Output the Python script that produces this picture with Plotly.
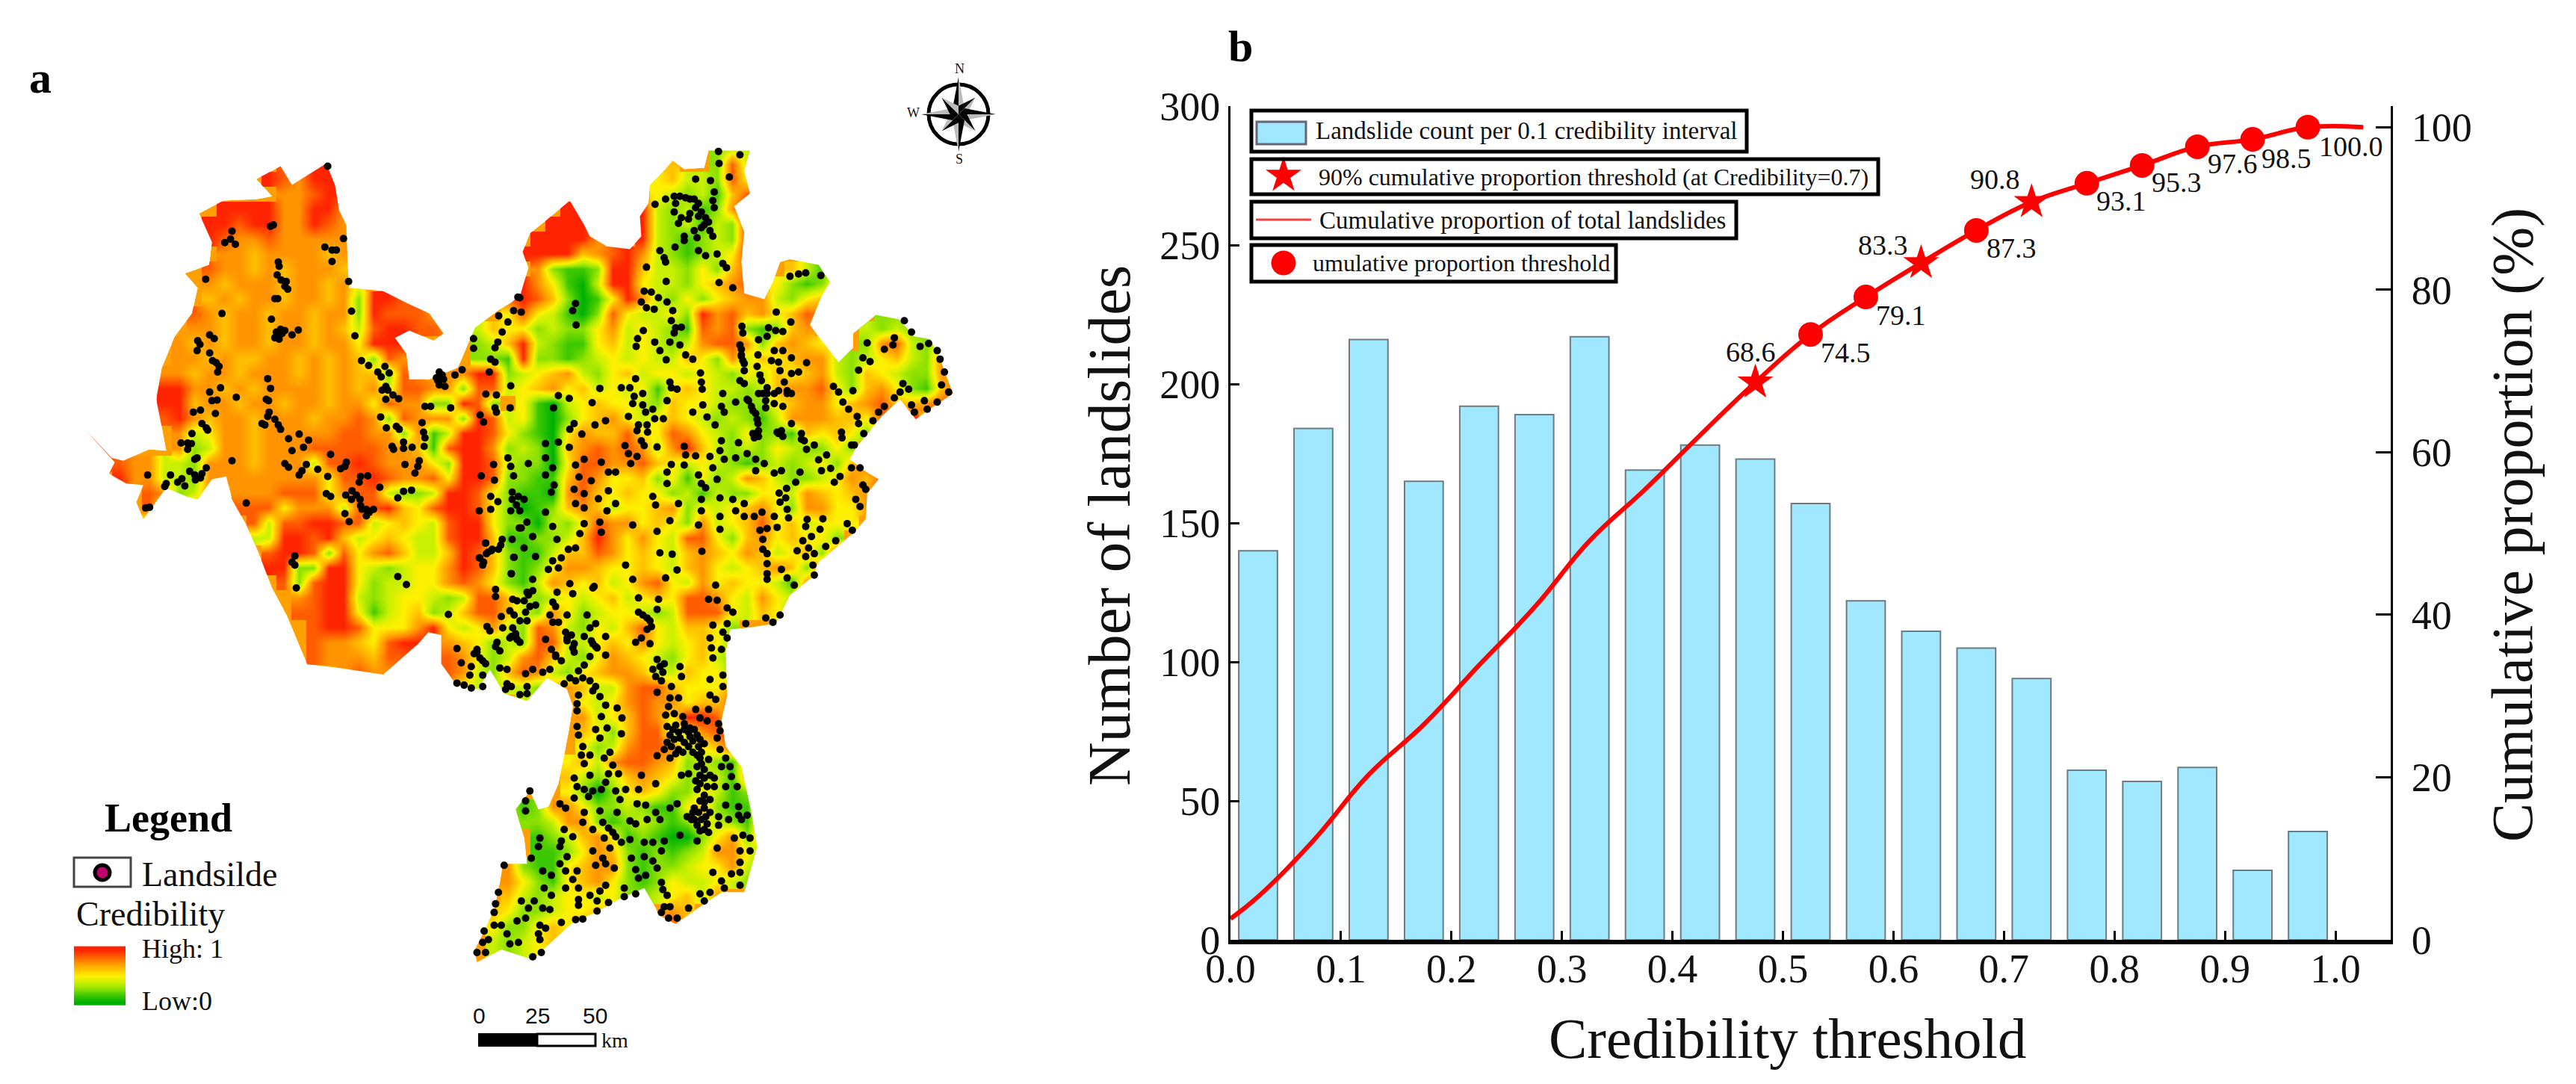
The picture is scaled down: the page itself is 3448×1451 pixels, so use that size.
import math
import plotly.graph_objects as go

# ---- panel b data
thresholds = [0.025, 0.075, 0.125, 0.175, 0.225, 0.275, 0.325, 0.375, 0.425, 0.475,
              0.525, 0.575, 0.625, 0.675, 0.725, 0.775, 0.825, 0.875, 0.925, 0.975]
landslide_counts = [140, 184, 216, 165, 192, 189, 217, 169, 178, 173,
                    157, 122, 111, 105, 94, 61, 57, 62, 25, 39]
curve_x = [0.0, 0.025, 0.075, 0.125, 0.175, 0.225, 0.275, 0.325, 0.375, 0.425, 0.475,
           0.525, 0.575, 0.625, 0.675, 0.725, 0.775, 0.825, 0.875, 0.925, 0.975, 1.025]
curve_y = [2.6, 5.3, 12.2, 20.3, 26.5, 33.8, 40.9, 49.1, 55.4, 62.1, 68.6,
           74.5, 79.1, 83.3, 87.3, 90.8, 93.1, 95.3, 97.6, 98.5, 100.0, 100.0]
star_x = [0.475, 0.625, 0.725]
star_y = [68.6, 83.3, 90.8]
dot_x = [0.525, 0.575, 0.675, 0.775, 0.825, 0.875, 0.925, 0.975]
dot_y = [74.5, 79.1, 87.3, 93.1, 95.3, 97.6, 98.5, 100.0]
x_ticks = [0.0, 0.1, 0.2, 0.3, 0.4, 0.5, 0.6, 0.7, 0.8, 0.9, 1.0]
left_ticks = [0, 50, 100, 150, 200, 250, 300]
right_ticks = [0, 20, 40, 60, 80, 100]
point_labels = [
    (0.475, 68.6, "68.6", -6, 41), (0.525, 74.5, "74.5", 47, -24), (0.575, 79.1, "79.1", 47, -24),
    (0.625, 83.3, "83.3", -51, 24), (0.675, 87.3, "87.3", 47, -24), (0.725, 90.8, "90.8", -49, 30),
    (0.775, 93.1, "93.1", 46, -24), (0.825, 95.3, "95.3", 46, -23), (0.875, 97.6, "97.6", 47, -23),
    (0.925, 98.5, "98.5", 45, -25), (0.975, 100.0, "100.0", 58, -26),
]

# ---- panel a data: credibility on a 20 px grid, "column:levels", 1 green .. 9 red
map_rows = [
    "42:344",
    "13:8 15:99 39:6 42:384",
    "12:987 15:999 38:564 41:4385",
    "13:77899 38:5434268",
    "9:999977997 32:99 37:94342379",
    "8:9989977987 31:999 37:94342439",
    "8:9877877777 30:99997 37:94323439",
    "9:776777767 29:9999678 36:97 38:4323459",
    "8:8 9:776767776 30:732239964435368 47:642",
    "8:76777677675 28:89 30:752149954435678 46:53236",
    "8:6767767767 18:3 19:9988 28:898631259743535677 46:4356",
    "7:87677677677 18:3 19:98887 28:5 29:854213854453978675687 53:33",
    "7:77677677676 18:4 19:899887 26:465 29:53433574543287832367 52:4343",
    "6:767677677677 18:5 19:99 21:9 26:346 29:943225645434788736765 52:378435",
    "6:7767667767676 19:3 20:87 26:332 29:9332345454465374656774 51:3456437",
    "5:77677677767676 19:6 20:3 21:87 24:77993 29:45674356455454354656743654337",
    "5:997767677776767488773884 29:567564545256544346778536753268",
    "5:996776776776775877339 26:83 29:521456554365543335677567866788",
    "5:897677677767787387773984 29:521356754565434324777665889",
    "0:9 6:74577677777887737249985 29:321576685587543533265653",
    "0:98 6:73477677788888776289973 29:43167878747964343543353",
    "0:8 2:877443777677748898777539984 29:331588778654543234345368",
    "2:9774437777777758898778 24:59983 29:3226875563525347643345768",
    "4:87347 10:7778885788433499853 29:221786565534243355476567",
    "4:844 7:7 10:8885777488965899853 29:123676455673545675377557",
    "4:4 11:848899884565489953 29:31435877565374568564555",
    "11:449989645654489962 29:2334697575488536756553",
    "12:89983857864469863 29:2246687565467657645638",
    "12:99339954345579863 29:235776556546754567638",
    "13:8389953445578753 29:24765645785475655427",
    "14:789943455 23:43488643454564565887547547",
    "14:889952456 23:3468864375345543488854653",
    "15:89985557 23:954574387435468546653",
    "15:87765899 24:76534388445657545653",
    "15:8777688 24:87534786435765435643",
    "17:7877 24:87436874356776446553",
    "25:544 28:44367 33:64478865557",
    "29:43 33:54578775668",
    "33:74568759984",
    "33:65368845789",
    "33:53478874568",
    "32:5647887634327",
    "32:6434676534427",
    "32:53135653354237",
    "28:4 29:23 31:775334322563226",
    "29:33477323432354326",
    "30:2346752321135737",
    "30:2235763232347753",
    "28:732256773233455743",
    "28:75325675323544543",
    "28:64345545334 39:5647",
    "27:6 28:5334556 39:76",
    "27:5335657 39:8",
    "27:43456",
    "27:4345",
]

# map boundary, clockwise, in the same three crops (scale 2.613)
west_edge = [
    (40,1010),(130,1105),(170,1115),(260,1075),(320,1080),(305,1000),(285,900),(305,790),(350,680),(410,600),(430,510),
    (385,460),(470,430),(480,350),(435,250),(520,205),(640,200),(690,190),(635,130),(720,85),(760,150),(880,75),(910,150),
    (925,240),(950,290),(955,440),(960,510),(1075,520),(1165,565),(1240,600),(1290,670),(1255,695),(1170,660),(1120,685),
    (1160,740),(1170,830),(1240,830),(1340,790),(1400,650),(1480,590),(1530,560),(1560,530),
]
east_edge = [
    (45,440),(25,385),(50,320),(100,280),(190,205),(240,290),(260,330),(320,365),(400,375),(440,330),(435,260),(465,215),
    (470,150),(520,100),(550,65),(590,95),(660,90),(675,30),(820,30),(800,100),(820,180),(765,225),(800,315),(790,420),
    (800,530),(870,550),(900,490),(925,420),(960,410),(1060,430),(1100,490),(1070,540),(1030,640),(1060,680),(1130,770),
    (1180,720),(1180,670),(1260,605),(1340,620),(1395,680),(1450,690),(1485,760),(1530,880),(1470,920),(1400,970),
    (1345,900),(1280,960),(1240,1010),(1190,1070),(1170,1110),(1220,1150),(1270,1180),(1230,1230),(1225,1320),(1180,1370),
    (1120,1420),(1060,1470),(1040,1520),
]
south_edge = [
    (1300,200),(1250,300),(1150,315),(1090,320),(1075,400),(1080,550),(1060,640),(1075,730),(1130,800),(1165,960),(1185,1080),
    (1140,1240),(1060,1240),(1000,1280),(900,1350),(840,1320),(830,1295),(790,1225),(700,1265),(620,1310),(540,1345),
    (480,1400),(400,1475),(290,1440),(205,1485),(195,1445),(230,1375),(265,1300),(290,1180),(295,1140),(380,1140),(370,1050),
    (340,950),(390,885),(420,950),(455,940),(490,860),(510,760),(525,680),(540,590),(520,530),(450,490),(380,570),(300,545),
    (250,460),(210,530),(130,510),(80,440),(80,340),(35,330),(0,370),
]
west_edge_lower = [
    (1079,1863),(928,1840),(813,1827),(742,1657),(690,1560),(640,1430),(600,1340),(550,1250),(530,1170),(480,1180),(430,1250),
    (390,1240),(320,1210),(240,1320),(215,1260),(240,1200),(180,1195),(120,1160),(140,1120),(40,1010),
]

# landslide points, in picture pixels relative to the same crops
west_dots = [
    (885,85),(940,338),(875,368),(900,378),(915,378),(900,418),(685,295),(695,290),(550,312),(545,340),(525,352),
    (562,358),(712,420),(715,435),(708,465),(722,483),(740,488),(735,505),(745,515),(700,548),(710,548),(458,480),
    (958,488),(515,600),(968,592),(688,620),(720,655),(705,665),(735,660),(700,685),(715,690),(760,675),(782,658),
    (430,695),(438,708),(472,675),(488,688),(428,730),(472,738),(482,765),(495,772),(505,785),(500,805),(980,678),
    (1003,765),(1028,782),(1060,805),(1072,822),(1085,785),(1100,808),(1088,855),(1075,868),(1095,868),(1113,885),
    (1133,898),(1088,900),(675,828),(685,862),(670,900),(678,905),(510,860),(472,875),(480,905),(498,903),(565,893),
    (415,945),(440,938),(492,950),(680,945),(675,960),(655,985),(665,990),(700,970),(712,990),(720,1005),(445,985),
    (460,1000),(465,1008),(1070,962),(1090,1000),(1125,995),(1135,1005),(1215,982),(1225,925),(1245,925),(1315,930),
    (410,1020),(372,1053),(395,1053),(408,1055),(395,1075),(420,1110),(428,1105),(785,1022),(818,1043),(748,1038),
    (800,1068),(760,1080),(895,1093),(550,1115),(1110,1065),(1115,1075),(1150,1050),(1150,1072),(1180,1068),(1220,1015),
    (1225,1035),(1222,1065),(1205,1115),(1200,1135),(1190,1158),(1155,1128),(735,1125),(748,1138),(810,1128),(795,1150),
    (785,1165),(850,1145),(885,1170),(950,1120),(945,1135),(930,1143),(460,1140),(445,1160),(440,1175),(402,1152),
    (420,1165),(422,1182),(335,1165),(375,1178),(360,1190),(320,1195),(315,1205),(385,1203),(255,1165),(248,1280),
    (262,1278),(880,1230),(895,1240),(1000,1170),(995,1190),(1025,1168),(970,1220),(985,1235),(968,1250),(948,1235),
    (998,1250),(1000,1272),(1020,1285),(1045,1285),(1020,1308),(945,1300),(960,1328),(1067,1208),(1130,1245),(1150,1222),
    (1178,1218),(600,1263),(770,1448),(760,1470),(770,1480),(1130,1520),(1160,1548),(775,1560),(1275,805),(1265,825),
    (1290,830),(1275,850),(1295,855),(1330,815),(1355,797),(1395,688),(1395,722),(1550,543),(1483,608),(1535,590),
    (1515,630),(1495,665),(1480,700),(1470,720),(1455,760),(1470,770),(1450,805),(1525,853),(1438,882),(1475,885),
    (1470,930),(1475,945),(1523,930),(1418,955),(1430,980),(1515,1105),(1525,1135),(1465,1128),(1422,1168),(1468,1183),
    (1535,1168),(1455,1240),(1530,1250),(1545,1270),(1415,1290),(1455,1285),(1480,1258),(1555,1350),(1437,1403),(1495,1390),
    (1460,1425),(1440,1440),(1415,1455),(1430,1470),(1530,1390),(1535,1453),(1527,1510),(705,680),(725,670),(1270,835),
    (1285,815),(1030,1295),(1005,1285),(1490,1410),(1445,1435),(1530,1225),(1525,1290),
]
east_dots = [
    (710,33),(785,45),(712,75),(748,123),(630,130),(682,135),(695,175),(690,205),(695,230),(488,218),(525,200),(555,190),
    (560,215),(595,195),(625,200),(630,230),(555,245),(580,265),(605,270),(640,260),(665,265),(660,290),(680,310),(625,310),
    (590,330),(590,345),(635,335),(690,330),(640,380),(665,398),(705,392),(725,425),(738,440),(505,380),(520,405),(525,420),
    (558,368),(458,438),(527,488),(712,492),(760,510),(450,522),(475,525),(500,545),(440,560),(458,580),(485,585),(530,560),
    (550,590),(545,625),(560,650),(580,648),(555,668),(447,660),(427,688),(422,715),(487,700),(505,730),(540,700),(575,710),
    (595,745),(620,760),(527,762),(210,565),(200,590),(212,640),(15,545),(20,595),(792,645),(795,668),(785,710),(790,745),
    (795,765),(800,800),(785,835),(800,845),(885,650),(910,660),(935,663),(880,680),(850,692),(912,595),(963,630),(905,730),
    (935,730),(848,745),(845,785),(895,765),(920,770),(965,755),(1018,772),(925,800),(990,805),(855,815),(860,835),(965,810),
    (940,840),(920,870),(950,870),(880,860),(850,880),(880,880),(965,880),(875,905),(875,930),(905,915),(935,925),(770,910),
    (810,900),(825,925),(840,950),(848,985),(850,1010),(835,1035),(725,880),(720,925),(730,945),(655,920),(647,808),(650,840),
    (653,865),(620,945),(670,962),(698,990),(540,840),(545,860),(565,865),(530,905),(295,862),(268,912),(150,887),(188,897),
    (133,930),(315,975),(278,990),(205,985),(190,1005),(232,1022),(105,1055),(150,1050),(188,1068),(105,1105),(45,1125),
    (420,828),(400,860),(370,860),(415,890),(445,880),(410,915),(445,920),(480,935),(395,960),(455,945),(487,968),(517,968),
    (430,990),(460,990),(425,1010),(462,1015),(440,1045),(450,1062),(495,1067),(383,1062),(395,1090),(425,1100),(403,1125),
    (590,1065),(595,1095),(590,1130),(630,1098),(545,1128),(530,1155),(530,1195),(640,1165),(680,1100),(720,1045),(715,1080),
    (730,1110),(690,1140),(705,1180),(650,1195),(665,1210),(780,1052),(770,1105),(810,1090),(840,1110),(870,1125),(840,1150),
    (905,1158),(930,1150),(995,1155),(980,1190),(948,1212),(922,1228),(945,1245),(925,1260),(950,1285),(955,1315),(915,1015),
    (935,1030),(965,985),(1000,1020),(1010,1045),(1045,1060),(1018,1075),(1060,1112),(1088,1095),(1102,1142),(1070,1150),
    (1135,1170),(1115,1190),(1175,1140),(1205,1140),(1215,1200),(1225,1215),(1190,1250),(1205,1275),(1140,1015),(1142,1035),
    (1175,1060),(1185,1060),(1195,960),(1200,985),(1218,1020),(1130,875),(1112,855),(1145,910),(1165,935),(1180,870),(1250,975),
    (1270,945),(1290,925),(1325,895),(1355,845),(1345,875),(1375,865),(1385,920),(1395,945),(1430,905),(1440,935),(1475,910),
    (1515,875),(1490,850),(1500,805),(1485,760),(1445,705),(1415,715),(1475,730),(1325,685),(1320,710),(1385,665),(1360,625),
    (1290,725),(1230,703),(1215,755),(1240,768),(1200,798),(960,470),(990,462),(1015,458),(1068,467),(130,1140),(105,1165),
    (135,1200),(125,1225),(210,1130),(240,1110),(300,1120),(222,1172),(265,1185),(205,1215),(240,1230),(325,1155),(350,1155),
    (325,1220),(350,1265),(290,1248),(210,1265),(240,1280),(320,1290),(295,1330),(300,1365),(105,1295),(130,1345),(145,1390),
    (240,1335),(225,1370),(210,1420),(185,1425),(130,1465),(115,1495),(160,1455),(30,1250),(10,1240),(15,1290),(40,1330),
    (20,1350),(60,1380),(30,1420),(70,1450),(60,1530),(150,1490),(190,1545),(275,1555),(570,1265),(480,1240),(490,1270),
    (540,1325),(650,1250),(650,1290),(640,1340),(715,1245),(715,1310),(715,1355),(760,1250),(770,1290),(800,1265),(800,1310),
    (835,1310),(862,1295),(905,1310),(855,1358),(880,1352),(915,1348),(865,1390),(865,1425),(880,1440),(880,1475),(880,1510),
    (495,1362),(410,1340),(652,1432),(505,1437),(548,1442),(565,1497),(525,1525),(385,1480),(410,1530),(700,1550),(1020,1320),
    (1015,1345),(1075,1318),(1065,1355),(1035,1380),(1005,1395),(1025,1420),(1015,1450),(1045,1440),(1120,1395),(1085,1415),
    (1160,1335),(1178,1358),(930,1495),(985,1430),(1040,1480),(1045,1515),(950,1525),(975,1550),(880,1530),(575,190),(610,200),
    (640,215),(650,245),(675,280),(610,250),(570,285),(650,300),(790,750),(800,775),(790,725),(815,905),(830,940),(845,970),
    (830,1020),(850,1030),(920,1020),(930,1010),(1000,1040),(950,880),(905,880),(865,880),
]
south_dots = [
    (235,18),(215,70),(255,45),(280,40),(225,95),(325,125),(335,68),(270,180),(270,205),(105,268),(240,310),(250,325),(290,275),
    (295,315),(330,215),(345,220),(320,255),(335,270),(380,190),(400,185),(370,220),(410,235),(375,260),(380,290),(330,315),
    (325,345),(345,355),(355,365),(275,365),(285,395),(270,380),(135,387),(205,390),(195,405),(215,420),(235,440),(150,437),
    (185,450),(180,480),(225,480),(135,508),(160,515),(185,525),(225,520),(285,455),(310,460),(310,510),(305,530),(325,520),
    (355,548),(380,545),(380,520),(375,475),(400,460),(435,470),(460,460),(445,355),(465,390),(480,415),(500,430),(460,270),
    (470,295),(490,295),(520,270),(485,190),(470,225),(480,240),(540,195),(610,175),(515,330),(535,340),(520,360),(545,370),
    (545,400),(580,345),(590,270),(600,315),(620,300),(605,360),(625,385),(655,345),(655,410),(600,415),(580,445),(560,465),
    (530,490),(510,510),(550,500),(575,490),(600,500),(620,520),(635,555),(655,585),(610,535),(560,550),(555,580),(555,605),
    (695,595),(712,630),(640,625),(660,665),(710,685),(620,670),(635,700),(770,210),(840,215),(835,250),(770,260),(785,270),
    (810,290),(800,320),(810,370),(760,365),(780,350),(1015,215),(1045,218),(1215,280),(1240,295),(1265,270),(1145,300),
    (1100,260),(1080,245),(1030,305),(1080,300),(1065,330),(1020,350),(1080,350),(1060,390),(1025,385),(1030,420),(835,425),
    (845,450),(830,485),(855,470),(885,520),(915,450),(920,485),(835,540),(880,560),(910,560),(1020,495),(1065,480),(1065,520),
    (1020,550),(1040,565),(1015,600),(875,590),(865,620),(895,615),(925,625),(970,600),(985,630),(1010,640),(1050,650),(1055,675),
    (1045,700),(1055,740),(870,660),(900,655),(930,650),(950,665),(880,690),(915,700),(950,695),(975,690),(860,740),(885,730),
    (910,740),(945,730),(980,730),(880,770),(835,762),(975,760),(990,790),(1015,775),(1075,770),(1060,800),(1090,800),(1095,835),
    (1035,840),(1020,830),(985,830),(945,825),(920,830),(985,860),(1000,900),(1035,870),(1075,870),(1115,870),(1020,915),(985,920),
    (1000,945),(1020,960),(965,945),(940,975),(965,985),(990,985),(1010,1000),(985,1025),(1050,975),(1075,935),(1120,940),(1120,970),
    (1085,985),(1050,1005),(1130,985),(1150,970),(1135,1040),(1160,1050),(1105,1050),(1125,1095),(1160,1095),(1045,1085),(1125,1135),
    (1125,1170),(1095,1175),(1030,1170),(1060,1200),(1125,1215),(1070,1225),(975,1060),(915,1040),(905,930),(880,945),(555,660),
    (560,690),(575,730),(570,760),(600,760),(580,790),(650,770),(670,750),(680,795),(700,825),(780,830),(830,860),(665,825),(600,830),
    (545,840),(555,870),(580,880),(610,885),(640,880),(655,855),(595,905),(545,910),(690,885),(725,880),(770,880),(705,915),(765,930),
    (795,935),(830,960),(845,985),(695,960),(635,955),(580,960),(575,995),(495,930),(515,945),(390,885),(375,920),(375,955),(510,1020),
    (500,1060),(495,1080),(540,1045),(610,1020),(645,995),(665,1015),(680,1030),(740,990),(760,1000),(800,985),(690,1045),(710,1065),
    (740,1055),(650,1050),(670,1085),(610,1095),(645,1120),(520,1115),(495,1140),(515,1165),(555,1165),(540,1195),(620,1145),(655,1140),
    (685,1155),(425,1050),(420,1080),(395,1120),(435,1165),(465,1180),(790,1065),(820,1065),(860,1060),(850,1095),(790,1115),(745,1120),
    (820,1130),(835,1155),(760,1160),(795,1180),(770,1190),(850,1205),(855,1230),(870,1250),(760,1245),(720,1255),(720,1225),(655,1215),
    (635,1235),(600,1250),(625,1270),(665,1275),(625,1305),(560,1225),(560,1265),(560,1285),(440,1225),(465,1250),(515,1225),(435,1295),
    (460,1300),(405,1270),(360,1270),(385,1295),(345,1340),(375,1330),(500,1345),(550,1335),(575,1333),(425,1355),(420,1385),(445,1365),
    (425,1405),(430,1450),(400,1465),(350,1415),(320,1420),(310,1385),(290,1355),(265,1355),(270,1280),(265,1310),(280,1240),(300,1145),
    (230,1375),(245,1405),(225,1415),(205,1450),(235,1450),(860,1290),(850,1310),(880,1290),(905,1330),(875,1330),(945,1295),(985,1245),
    (1020,1240),(1000,1270),(890,670),(910,680),(930,670),(945,680),(965,670),(895,705),(930,715),(960,710),(985,705),(870,715),
    (900,755),(925,750),(960,750),(990,750),(1000,720),(985,770),(1000,810),(975,800),(1000,840),(970,850),(1010,870),(975,880),
    (1000,925),(960,960),(980,960),(1005,975),(975,1005),(1000,1020),(1015,1030),(955,985),(385,200),(390,240),(355,290),(340,335),
    (320,350),(340,345),(205,400),(225,430),(480,410),(520,350),(540,385),(610,370),(620,380),(820,460),(850,500),(860,440),(800,280),
    (815,310),
]
legend_levels = [[9], [8], [7], [6], [5], [4], [3], [2], [1]]

SERIF = "Liberation Serif"
W, H = 3448, 1451
COLORS = [[0, "#00B000"], [0.125, "#3CC800"], [0.25, "#8CE000"], [0.375, "#C8F000"], [0.5, "#FFF000"],
          [0.625, "#FFC000"], [0.75, "#FF9400"], [0.875, "#FF5C00"], [1, "#FF2400"]]


def parse_rows(rows, ncols=60):
    grid = []
    for row in rows:
        line = [None] * ncols
        for token in row.split():
            start, levels = token.split(":")
            for i, ch in enumerate(levels):
                line[int(start) + i] = int(ch)
        grid.append(line)
    return grid


def crop_to_page(dots, left, top, scale=2.613):
    return [left + d[0] / scale for d in dots], [top + d[1] / scale for d in dots]


def polygon(xs, ys):
    return "M " + " L ".join(f"{x:.1f} {y:.1f}" for x, y in zip(xs, ys)) + " Z"


fig = go.Figure()

# ---- panel b
fig.add_trace(go.Bar(x=thresholds, y=landslide_counts, width=0.035, xaxis="x", yaxis="y",
                     marker=dict(color="#9FE8FF", line=dict(color="#6E7B80", width=2)), showlegend=False))
fig.add_trace(go.Scatter(x=curve_x, y=curve_y, mode="lines", xaxis="x", yaxis="y2", showlegend=False,
                         line=dict(color="#FF0000", width=6, shape="spline", smoothing=1.2)))
fig.add_trace(go.Scatter(x=star_x, y=star_y, mode="markers", xaxis="x", yaxis="y2", showlegend=False,
                         marker=dict(symbol="star", size=36, color="#FF0000")))
fig.add_trace(go.Scatter(x=dot_x, y=dot_y, mode="markers", xaxis="x", yaxis="y2", showlegend=False,
                         marker=dict(symbol="circle", size=33, color="#FF0000")))

# ---- panel a, pixel axes covering the whole page
edge_x, edge_y = [], []
for part, left, top in [(west_edge, 100, 190), (east_edge, 690, 190), (south_edge, 560, 720), (west_edge_lower, 100, 190)]:
    px, py = crop_to_page(part, left, top)
    edge_x += px
    edge_y += py

# grid first, then white round the boundary (ring reversed so it cuts a hole in the white)
fig.add_trace(go.Heatmap(z=parse_rows(map_rows), x0=120, dx=20, y0=200, dy=20, xaxis="x3", yaxis="y3",
                         colorscale=COLORS, zmin=1, zmax=9, showscale=False, zsmooth="best"))
fig.add_trace(go.Scatter(x=[90, 1320, 1320, 500, 500, 90, 90] + edge_x[::-1] + [90],
                         y=[180, 180, 1300, 1300, 1040, 1040, 180] + edge_y[::-1] + [180],
                         fill="toself", fillcolor="white", mode="none", xaxis="x3", yaxis="y3", showlegend=False))
for dots, left, top in [(west_dots, 100, 190), (east_dots, 690, 190), (south_dots, 560, 720)]:
    px, py = crop_to_page(dots, left, top)
    fig.add_trace(go.Scatter(x=px, y=py, mode="markers", xaxis="x3", yaxis="y3", showlegend=False,
                             marker=dict(size=10, color="black")))

# map legend gradient and symbol
fig.add_trace(go.Heatmap(z=legend_levels, x0=133.5, dx=69, y0=1271, dy=8.75, xaxis="x3", yaxis="y3",
                         colorscale=COLORS, zmin=1, zmax=9, showscale=False, zsmooth="best"))
fig.add_trace(go.Scatter(x=[137], y=[1168], mode="markers", xaxis="x3", yaxis="y3", showlegend=False,
                         marker=dict(size=20, color="#C0006E", line=dict(color="black", width=5))))

# symbols of the chart's hand-made legend
fig.add_trace(go.Scatter(x=[1718], y=[235], mode="markers", xaxis="x3", yaxis="y3", showlegend=False,
                         marker=dict(symbol="star", size=36, color="#FF0000")))
fig.add_trace(go.Scatter(x=[1681, 1755], y=[294, 294], mode="lines", xaxis="x3", yaxis="y3", showlegend=False,
                         line=dict(color="#FF4040", width=3)))
fig.add_trace(go.Scatter(x=[1718], y=[352], mode="markers", xaxis="x3", yaxis="y3", showlegend=False,
                         marker=dict(symbol="circle", size=33, color="#FF0000")))

# flat base under the grid so gaps at the boundary are not white, red for the thin western tail
tail_x, tail_y = crop_to_page(west_edge[:3] + west_edge_lower[-3:-1], 100, 190)
shapes = [dict(type="path", xref="x3", yref="y3", layer="below", fillcolor="#FFA000", line=dict(width=0),
               path=polygon(edge_x, edge_y)),
          dict(type="path", xref="x3", yref="y3", layer="below", fillcolor="#FF4000", line=dict(width=0),
               path=polygon(tail_x, tail_y))]


def box(x0, y0, x1, y1, line="black", width=5, fill="rgba(0,0,0,0)"):
    shapes.append(dict(type="rect", xref="x3", yref="y3", x0=x0, y0=y0, x1=x1, y1=y1,
                       line=dict(color=line, width=width), fillcolor=fill))


box(1675, 148, 2338, 203)
box(1675, 213, 2514, 260)
box(1675, 270, 2324, 319)
box(1675, 328, 2163, 377)
box(1682, 163, 1748, 193, line="#667", width=3, fill="#9FE8FF")
box(99, 1148, 175, 1187, line="#444", width=3)
box(641, 1384, 719, 1400, line="black", width=2, fill="black")
box(719, 1384, 797, 1400, line="black", width=3, fill="white")

# compass rose
cx, cy = 1283, 153
shapes.append(dict(type="circle", xref="x3", yref="y3", x0=cx - 40, y0=cy - 40, x1=cx + 40, y1=cy + 40,
                   line=dict(color="black", width=5)))
for k in range(8):
    a = k * math.pi / 4
    r = 50 if k % 2 == 0 else 32
    ux, uy = math.sin(a), -math.cos(a)
    tip = (cx + r * ux, cy + r * uy)
    side = (cx + 8 * uy + 8 * ux, cy - 8 * ux + 8 * uy)
    other = (cx - 8 * uy + 8 * ux, cy + 8 * ux + 8 * uy)
    for pts, col in [((tip, side), "black"), ((tip, other), "#BBBBBB")]:
        shapes.append(dict(type="path", xref="x3", yref="y3", fillcolor=col, line=dict(width=0),
                           path=f"M {cx} {cy} L {pts[0][0]:.1f} {pts[0][1]:.1f} L {pts[1][0]:.1f} {pts[1][1]:.1f} Z"))

annotations = []


def label(x, y, text, size, anchor="left", family=SERIF, color="#111111", angle=0):
    annotations.append(dict(x=x, y=y, xref="x3", yref="y3", text=text, showarrow=False, xanchor=anchor,
                            yanchor="middle", textangle=angle, font=dict(family=family, size=size, color=color)))


label(54, 104, "<b>a</b>", 60, "center", color="black")
label(1660, 62, "<b>b</b>", 60, "center", color="black")
label(225, 1095, "<b>Legend</b>", 54, "center", color="black")
label(188, 1170, "Landsilde", 46)
label(100, 1223, "Credibility", 46)
label(188, 1270, "High: 1", 36)
label(188, 1340, "Low:0", 36)
label(641, 1359, "0", 30, "center", "Liberation Sans")
label(719, 1359, "25", 30, "center", "Liberation Sans")
label(796, 1359, "50", 30, "center", "Liberation Sans")
label(803, 1392, "km", 28, "left")
label(1284, 92, "N", 18, "center")
label(1284, 213, "S", 18, "center")
label(1222, 151, "W", 18, "center")
label(1759, 175, "Landslide count per 0.1 credibility interval", 33)
label(1763, 237, "90% cumulative proportion threshold (at Credibility=0.7)", 32)
label(1764, 295, "Cumulative proportion of total landslides", 33)
label(1755, 352, "umulative proportion threshold", 32)
label(2392, 1390, "Credibility threshold", 77, "center")
label(1485, 704, "Number of landslides", 81, "center", angle=-90)
label(3362, 703, "Cumulative proportion (%)", 78, "center", angle=-90)

for px, py, text, dx, dy in point_labels:
    annotations.append(dict(x=px, y=py, xref="x", yref="y2", text=text, showarrow=False, xshift=dx, yshift=dy,
                            font=dict(family=SERIF, size=38, color="#111111")))

axis_line = dict(showline=True, linecolor="black", showgrid=False, zeroline=False, ticks="inside",
                 tickcolor="black", automargin=False, tickfont=dict(family=SERIF, size=54, color="#111111"))

fig.update_layout(
    width=W, height=H, margin=dict(l=0, r=0, t=0, b=0), paper_bgcolor="white", plot_bgcolor="rgba(0,0,0,0)",
    showlegend=False, shapes=shapes, annotations=annotations,
    xaxis=dict(domain=[1647 / W, 3200 / W], range=[0, 1.05], anchor="y", tickvals=x_ticks, tickformat=".1f",
               linewidth=6, ticklen=12, tickwidth=3, ticklabelstandoff=-14, **axis_line),
    yaxis=dict(domain=[1 - 1258 / H, 1 - 142 / H], range=[0, 300], anchor="x", tickvals=left_ticks,
               linewidth=3, ticklen=12, tickwidth=3, **axis_line),
    yaxis2=dict(domain=[1 - 1258 / H, 1 - 142 / H], range=[0, 102.6], anchor="x", overlaying="y", side="right",
                tickvals=right_ticks, linewidth=3, ticklen=20, tickwidth=3, ticklabelstandoff=14, **axis_line),
    xaxis3=dict(domain=[0, 1], range=[0, W], anchor="y3", visible=False),
    yaxis3=dict(domain=[0, 1], range=[H, 0], anchor="x3", visible=False),
)

fig.write_html("out.html", config={"displayModeBar": False},
               post_script="document.body.style.margin='0';document.body.style.overflow='hidden';")
